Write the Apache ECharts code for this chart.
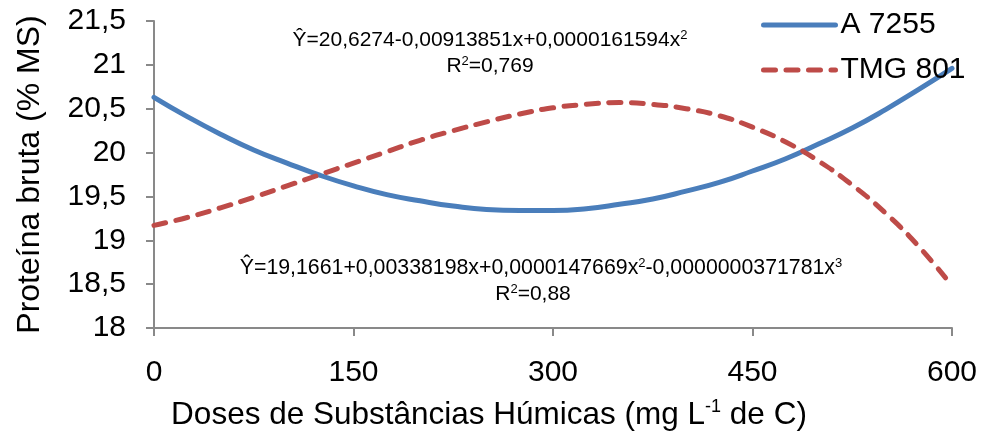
<!DOCTYPE html>
<html>
<head>
<meta charset="utf-8">
<script src="https://cdn.jsdelivr.net/npm/echarts@6/dist/echarts.min.js"></script>
<style>
  html, body { margin: 0; padding: 0; background: #fff; }
  #main { width: 982px; height: 443px; }
</style>
</head>
<body>
<div id="main"></div>
<script>
// doses (mg L-1 de C)
var doses = [0, 25, 50, 75, 100, 125, 150, 175, 200, 225, 250, 275, 300, 325, 350, 375, 400, 425, 450, 475, 500, 525, 550, 575, 600];
// proteína bruta
var a7255 = [20.63, 20.41, 20.21, 20.03, 19.88, 19.74, 19.62, 19.52, 19.45, 19.39, 19.35, 19.34, 19.34, 19.36, 19.41, 19.47, 19.56, 19.66, 19.79, 19.93, 20.10, 20.28, 20.49, 20.72, 20.96];
var tmg801 = [19.17, 19.26, 19.37, 19.49, 19.62, 19.75, 19.88, 20.01, 20.14, 20.25, 20.35, 20.44, 20.51, 20.55, 20.57, 20.55, 20.50, 20.42, 20.29, 20.12, 19.90, 19.63, 19.31, 18.93, 18.48];
var seriesNames = ['A 7255', 'TMG 801'];
var xTicks = [0, 150, 300, 450, 600];

var eqA = 'Ŷ=20,6274-0,00913851x+0,0000161594x{s|2}';
var r2A = 'R{s|2}=0,769';
var eqB = 'Ŷ=19,1661+0,00338198x+0,0000147669x{s|2}-0,0000000371781x{s|3}';
var r2B = 'R{s|2}=0,88';

var fontFam = '"Liberation Sans", Arial, sans-serif';
var axisGray = '#898989';

function pares(xs, ys) {
    var out = [];
    for (var i = 0; i < xs.length; i++) {
        out.push([xs[i], ys[i]]);
    }
    return out;
}

var supRich = {
    s: { fontSize: 13, verticalAlign: 'top', lineHeight: 22, fontFamily: fontFam, color: '#000' }
};

var myChart = echarts.init(document.getElementById('main'));
var option = {
    animation: false,
    backgroundColor: '#fff',
    textStyle: { fontFamily: fontFam },
    grid: { left: 154, right: 30, top: 21, bottom: 115, containLabel: false },
    legend: {
        orient: 'vertical',
        left: 756,
        top: 5,
        itemWidth: 72,
        itemHeight: 16,
        itemGap: 15,
        itemStyle: { opacity: 0 },
        lineStyle: { width: 5, cap: 'round' },
        textStyle: { fontSize: 30, color: '#000', fontFamily: fontFam },
        data: seriesNames
    },
    xAxis: {
        type: 'value',
        min: xTicks[0],
        max: xTicks[xTicks.length - 1],
        interval: 150,
        name: 'Doses de Substâncias Húmicas (mg L{s|-1} de C)',
        nameLocation: 'middle',
        nameGap: 70,
        nameTextStyle: {
            fontSize: 31.5, color: '#000', fontFamily: fontFam, lineHeight: 34,
            padding: [0, 128, 0, 0],
            rich: { s: { fontSize: 18, verticalAlign: 'top', lineHeight: 34, color: '#000', fontFamily: fontFam } }
        },
        axisLine: { show: true, lineStyle: { color: axisGray, width: 2 } },
        axisTick: { show: true, length: 8, lineStyle: { color: axisGray, width: 2 } },
        axisLabel: { fontSize: 30, color: '#000', margin: 30, fontFamily: fontFam },
        splitLine: { show: false }
    },
    yAxis: {
        type: 'value',
        min: 18,
        max: 21.5,
        interval: 0.5,
        name: 'Proteína bruta (% MS)',
        nameLocation: 'middle',
        nameGap: 108,
        nameTextStyle: { fontSize: 32, color: '#000', fontFamily: fontFam },
        axisLine: { show: true, lineStyle: { color: axisGray, width: 2 } },
        axisTick: { show: true, inside: false, length: 8, lineStyle: { color: axisGray, width: 2 } },
        axisLabel: {
            fontSize: 30, color: '#000', margin: 28, fontFamily: fontFam,
            formatter: function (v) { return String(v).replace('.', ','); }
        },
        splitLine: { show: false }
    },
    series: [
        {
            name: seriesNames[0],
            type: 'line',
            smooth: true,
            symbol: 'none',
            data: pares(doses, a7255),
            lineStyle: { color: '#4a7ebb', width: 5, cap: 'round' },
            itemStyle: { color: '#4a7ebb' },
            z: 2
        },
        {
            name: seriesNames[1],
            type: 'line',
            smooth: true,
            symbol: 'none',
            data: pares(doses, tmg801),
            lineStyle: { color: '#be4b48', width: 5, type: [12, 10.5], cap: 'round' },
            itemStyle: { color: '#be4b48' },
            z: 3
        }
    ],
    graphic: [
        {
            type: 'text',
            style: { x: 490, y: 40, text: eqA, align: 'center', verticalAlign: 'middle', fontSize: 21, fill: '#000', fontFamily: fontFam, rich: supRich }
        },
        {
            type: 'text',
            style: { x: 490, y: 66, text: r2A, align: 'center', verticalAlign: 'middle', fontSize: 21, fill: '#000', fontFamily: fontFam, rich: supRich }
        },
        {
            type: 'text',
            style: { x: 541, y: 268, text: eqB, align: 'center', verticalAlign: 'middle', fontSize: 21.3, fill: '#000', fontFamily: fontFam, rich: supRich }
        },
        {
            type: 'text',
            style: { x: 533, y: 294, text: r2B, align: 'center', verticalAlign: 'middle', fontSize: 21, fill: '#000', fontFamily: fontFam, rich: supRich }
        }
    ]
};
myChart.setOption(option);
</script>
</body>
</html>
